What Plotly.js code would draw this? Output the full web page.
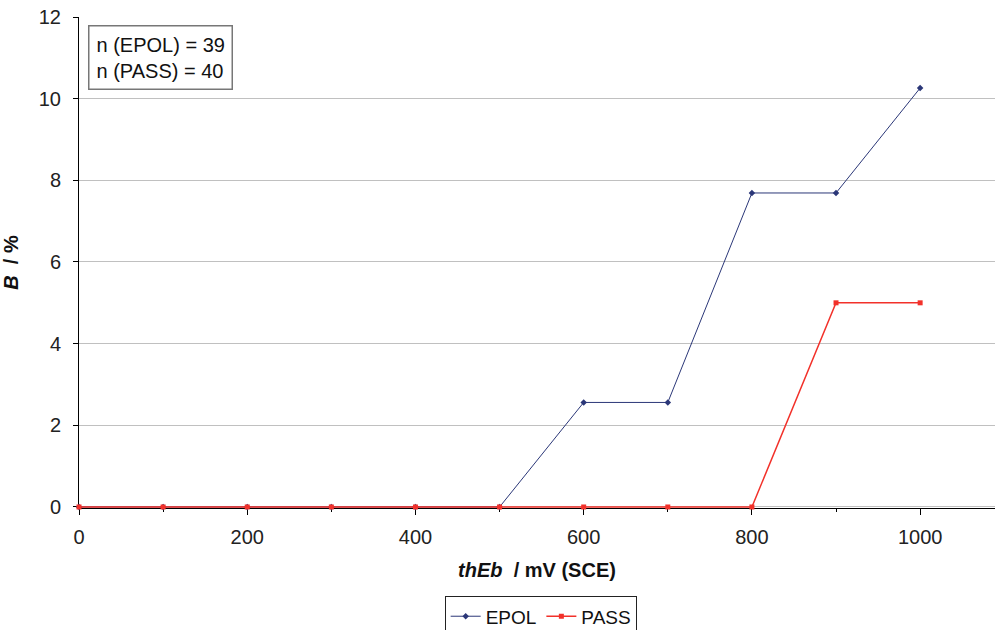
<!DOCTYPE html>
<html>
<head>
<meta charset="utf-8">
<script src="https://cdn.plot.ly/plotly-3.0.1.min.js"></script>
<style>html,body{margin:0;padding:0;background:#fff;}#chart{width:995px;height:630px;}</style>
</head>
<body>
<div id="chart"></div>
<script>
const potential = [0, 100, 200, 300, 400, 500, 600, 700, 800, 900, 1000];
const epol = [0, 0, 0, 0, 0, 0, 2.56, 2.56, 7.69, 7.69, 10.26];
const pass = [0, 0, 0, 0, 0, 0, 0, 0, 0, 5, 5];
const seriesNames = ["EPOL", "PASS"];
const boxText = "n (EPOL) = 39<br>n (PASS) = 40";

const font = "Liberation Sans, Arial, sans-serif";
const traces = [
  {x: potential, y: epol, name: seriesNames[0], type: "scatter", mode: "lines+markers", cliponaxis: false,
   line: {color: "#2b3778", width: 1}, marker: {symbol: "diamond", size: 5, color: "#2b3778"}},
  {x: potential, y: pass, name: seriesNames[1], type: "scatter", mode: "lines+markers", cliponaxis: false,
   line: {color: "#f2312a", width: 1.5}, marker: {symbol: "square", size: 5, color: "#f2312a"}}
];
const layout = {
  width: 995, height: 630,
  margin: {l: 79, r: 0, t: 17, b: 122, autoexpand: false},
  paper_bgcolor: "#fff", plot_bgcolor: "#fff",
  font: {family: font, size: 20, color: "#222"},
  showlegend: true,
  legend: {orientation: "h", x: 0.504, xanchor: "center", xref: "paper", y: -0.18, yanchor: "top",
           bordercolor: "#222", borderwidth: 1, font: {size: 19, color: "#111"},
           itemwidth: 30, tracegroupgap: 0},
  xaxis: {range: [0, 1089], tickmode: "array", tickvals: [0, 200, 400, 600, 800, 1000], layer: "below traces",
          ticks: "outside", ticklen: 6, tickcolor: "#000", showline: true, linecolor: "#000", linewidth: 1,
          showgrid: false, zeroline: false, tickfont: {size: 20, color: "#222"}, ticklabelstandoff: 5,
          minor: {tickvals: [100, 300, 500, 700, 900], ticks: "outside", ticklen: 3, tickcolor: "#000", showgrid: false},
          title: {text: "<b><i>thEb</i>  / mV (SCE)</b>", font: {size: 20, color: "#111"}, standoff: 15}},
  yaxis: {range: [-0.025, 12], tickmode: "array", tickvals: [0, 2, 4, 6, 8, 10, 12], ticks: "outside", ticklen: 5, tickcolor: "#000", layer: "below traces",
          showline: true, linecolor: "#000", linewidth: 1, showgrid: true, gridcolor: "#c0c0c0", gridwidth: 1,
          zeroline: false, tickfont: {size: 20, color: "#222"}, ticklabelstandoff: 8,
          title: {text: "<b><i>B</i>  / %</b>", font: {size: 20, color: "#111"}, standoff: 14}},
  annotations: [{xref: "paper", yref: "paper", x: 0.0098, y: 0.9837, xanchor: "left", yanchor: "top",
                 text: boxText, align: "left", showarrow: false, bordercolor: "#777", borderwidth: 1.5,
                 borderpad: 7, bgcolor: "#fff", font: {size: 20, color: "#111"}}]
};
Plotly.newPlot("chart", traces, layout, {displayModeBar: false, staticPlot: true});
</script>
</body>
</html>
